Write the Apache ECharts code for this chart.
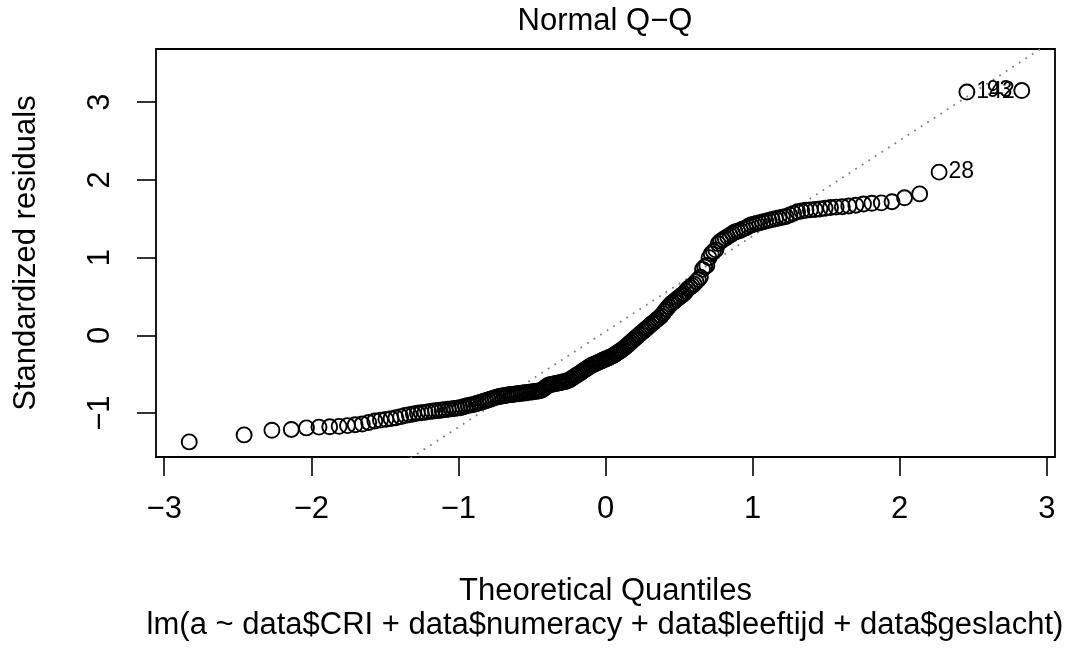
<!DOCTYPE html>
<html>
<head>
<meta charset="utf-8">
<script src="https://cdn.jsdelivr.net/npm/echarts@6/dist/echarts.min.js"></script>
<style>
html,body{margin:0;padding:0;background:#fff;}
#chart{width:1077px;height:650px;}
</style>
</head>
<body>
<div id="chart"></div>
<script>
// Theoretical quantiles (x) and sorted standardized residuals (y)
const theoQuantiles = [
-2.830,-2.457,-2.268,-2.136,-2.033,-1.948,-1.875,-1.811,-1.754,-1.702,
-1.654,-1.610,-1.568,-1.530,-1.493,-1.458,-1.425,-1.393,-1.363,-1.334,
-1.306,-1.279,-1.253,-1.227,-1.203,-1.179,-1.156,-1.133,-1.111,-1.090,
-1.069,-1.048,-1.028,-1.009,-0.989,-0.970,-0.952,-0.934,-0.916,-0.898,
-0.881,-0.864,-0.847,-0.830,-0.814,-0.798,-0.782,-0.766,-0.750,-0.734,
-0.719,-0.704,-0.689,-0.674,-0.660,-0.645,-0.631,-0.616,-0.602,-0.589,
-0.575,-0.561,-0.548,-0.534,-0.521,-0.507,-0.494,-0.481,-0.468,-0.455,
-0.442,-0.429,-0.416,-0.403,-0.391,-0.378,-0.366,-0.353,-0.341,-0.328,
-0.316,-0.303,-0.291,-0.279,-0.267,-0.255,-0.242,-0.230,-0.218,-0.206,
-0.194,-0.182,-0.170,-0.158,-0.147,-0.135,-0.123,-0.111,-0.100,-0.088,
-0.076,-0.064,-0.053,-0.041,-0.029,-0.018,-0.006,
0.006,0.018,0.029,0.041,0.053,0.064,0.076,0.088,0.100,0.111,
0.123,0.135,0.147,0.158,0.170,0.182,0.194,0.206,0.218,0.230,
0.242,0.255,0.267,0.279,0.291,0.303,0.316,0.328,0.341,0.353,
0.366,0.378,0.391,0.403,0.416,0.429,0.442,0.455,0.468,0.481,
0.494,0.507,0.521,0.534,0.548,0.561,0.575,0.589,0.602,0.616,
0.631,0.645,0.660,0.674,0.689,0.704,0.719,0.734,0.750,0.766,
0.782,0.798,0.814,0.830,0.847,0.864,0.881,0.898,0.916,0.934,
0.952,0.970,0.989,1.009,1.028,1.048,1.069,1.090,1.111,1.133,
1.156,1.179,1.203,1.227,1.253,1.279,1.306,1.334,1.363,1.393,
1.425,1.458,1.493,1.530,1.568,1.610,1.654,1.702,1.754,1.811,
1.875,1.948,2.033,2.136,2.268,2.457,2.830
];
const stdResiduals = [
-1.37,-1.28,-1.22,-1.21,-1.19,-1.18,-1.175,-1.17,-1.16,-1.15,
-1.14,-1.12,-1.10,-1.09,-1.08,-1.07,-1.06,-1.045,-1.03,-1.02,
-1.01,-1.00,-0.995,-0.99,-0.98,-0.975,-0.97,-0.965,-0.96,-0.955,
-0.95,-0.945,-0.94,-0.935,-0.93,-0.92,-0.91,-0.90,-0.895,-0.89,
-0.88,-0.87,-0.86,-0.85,-0.84,-0.83,-0.82,-0.81,-0.80,-0.79,
-0.785,-0.78,-0.775,-0.77,-0.765,-0.76,-0.76,-0.755,-0.75,-0.75,
-0.745,-0.74,-0.74,-0.735,-0.73,-0.73,-0.725,-0.72,-0.72,-0.715,
-0.71,-0.70,-0.68,-0.66,-0.645,-0.635,-0.63,-0.625,-0.62,-0.615,
-0.61,-0.605,-0.60,-0.595,-0.59,-0.58,-0.57,-0.555,-0.54,-0.525,
-0.51,-0.495,-0.48,-0.465,-0.45,-0.435,-0.42,-0.405,-0.39,-0.38,
-0.37,-0.36,-0.35,-0.34,-0.33,-0.32,-0.31,-0.30,-0.29,-0.28,
-0.27,-0.26,-0.245,-0.23,-0.215,-0.20,-0.185,-0.17,-0.15,-0.13,
-0.11,-0.09,-0.07,-0.05,-0.03,-0.01,0.01,0.03,0.05,0.07,
0.09,0.11,0.13,0.15,0.17,0.19,0.21,0.23,0.25,0.28,
0.31,0.34,0.37,0.40,0.42,0.44,0.46,0.48,0.50,0.52,
0.54,0.57,0.60,0.62,0.64,0.66,0.69,0.72,0.75,0.85,
0.88,0.90,1.00,1.05,1.08,1.10,1.18,1.21,1.23,1.25,
1.27,1.29,1.31,1.33,1.34,1.35,1.37,1.38,1.40,1.42,
1.43,1.44,1.45,1.46,1.47,1.48,1.49,1.50,1.51,1.52,
1.53,1.55,1.57,1.59,1.60,1.61,1.615,1.62,1.625,1.635,
1.645,1.65,1.655,1.665,1.675,1.69,1.70,1.705,1.72,1.77,
1.82,2.10,3.13,3.15
];
// identified points (index into sorted arrays), their labels and side
const idIndex = [211, 212, 213];
const idText = ['28', '142', '93'];
const idSide = ['right', 'right', 'left'];
// reference (qqline) end points
const refLineX = [-3.06, 3.06];
const refLineY = [-3.71, 3.81];
// axis ticks
const xTicks = [-3, -2, -1, 0, 1, 2, 3];
const yTicks = [-1, 0, 1, 2, 3];
const xRange = [-3.056, 3.056];
const yRange = [-1.564, 3.684];

const FONT = '"Liberation Sans", Arial, Helvetica, sans-serif';
const FS = 31;
const minus = v => String(v).replace('-', '\u2212');

const pts = theoQuantiles.map((x, i) => {
  const item = { value: [x, stdResiduals[i]] };
  const k = idIndex.indexOf(i);
  if (k >= 0) {
    item.label = {
      show: true, formatter: idText[k], position: idSide[k], distance: 1,
      color: '#000', fontSize: 23, fontFamily: FONT, textBorderWidth: 0, opacity: 1
    };
  }
  return item;
});

const chart = echarts.init(document.getElementById('chart'), null, { renderer: 'canvas' });
chart.setOption({
  backgroundColor: '#fff',
  animation: false,
  title: [
    { text: 'Normal Q\u2212Q', left: 605, top: 6, textAlign: 'center', padding: 0,
      textStyle: { fontSize: FS, fontWeight: 'normal', color: '#000', fontFamily: FONT } },
    { text: 'lm(a ~ data$CRI + data$numeracy + data$leeftijd + data$geslacht)', left: 605, top: 610, textAlign: 'center', padding: 0,
      textStyle: { fontSize: FS, fontWeight: 'normal', color: '#000', fontFamily: FONT } }
  ],
  grid: { left: 156, top: 49, width: 899, height: 408, show: true, borderColor: '#000', borderWidth: 1.8, backgroundColor: 'transparent' },
  xAxis: {
    type: 'value', min: xRange[0], max: xRange[1],
    name: 'Theoretical Quantiles', nameLocation: 'middle', nameGap: 119,
    nameTextStyle: { fontSize: FS, color: '#000', fontFamily: FONT },
    axisLine: { show: false, onZero: false },
    axisTick: { show: true, length: 19, lineStyle: { color: '#000', width: 1.6 }, customValues: xTicks },
    axisLabel: { fontSize: FS, color: '#000', fontFamily: FONT, margin: 37, customValues: xTicks, formatter: minus },
    splitLine: { show: false }
  },
  yAxis: {
    type: 'value', min: yRange[0], max: yRange[1],
    name: 'Standardized residuals', nameLocation: 'middle', nameGap: 114,
    nameTextStyle: { fontSize: FS, color: '#000', fontFamily: FONT },
    axisLine: { show: false, onZero: false },
    axisTick: { show: true, length: 19, lineStyle: { color: '#000', width: 1.6 }, customValues: yTicks },
    axisLabel: { fontSize: FS, color: '#000', fontFamily: FONT, margin: 40, rotate: 90, customValues: yTicks, formatter: minus },
    splitLine: { show: false }
  },
  series: [
    {
      type: 'line', data: refLineX.map((x, i) => [x, refLineY[i]]),
      showSymbol: false, symbol: 'none', clip: true, silent: true,
      lineStyle: { color: '#808080', width: 1.8, type: [1.8, 6] }, z: 1
    },
    {
      type: 'scatter', data: pts, symbol: 'circle', symbolSize: 15, clip: false,
      itemStyle: { color: 'rgba(0,0,0,0)', borderColor: '#000', borderWidth: 1.9, opacity: 1 }, z: 2
    }
  ]
});
</script>
</body>
</html>
